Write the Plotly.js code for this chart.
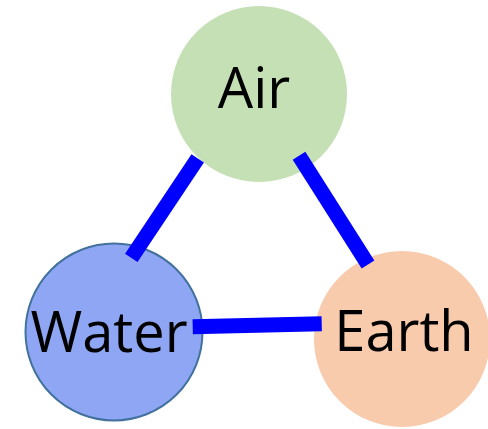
<!DOCTYPE html>
<html>
<head>
<meta charset="utf-8">
<script src="https://cdn.plot.ly/plotly-3.0.1.min.js"></script>
<style>html,body{margin:0;padding:0;background:#fff;}#chart{width:488px;height:429px;}</style>
</head>
<body>
<div id="chart"></div>
<script>
// Nodes
const nodeNames = ["Air", "Water", "Earth"];
const nodeX = [259, 114, 402];
const nodeY = [94, 332, 339];
const nodeR = [88, 88.5, 88];
const nodeFill = ["#C5E0B4", "#8FA6F5", "#F8CBAD"];
const nodeBorder = [null, "#41719C", null];
// Label anchor points (visual centre of each word)
const labelX = [254, 109, 404];
const labelY = [94, 338, 337];
// Edges (segment end points)
const edgeX0 = [197.7, 299, 192.7];
const edgeY0 = [158.3, 155.8, 326.7];
const edgeX1 = [131.3, 368, 321.7];
const edgeY1 = [257.8, 264.5, 323.8];

const shapes = nodeNames.map((n, i) => ({
  type: "circle", xref: "x", yref: "y", layer: "below",
  x0: nodeX[i] - nodeR[i], x1: nodeX[i] + nodeR[i],
  y0: nodeY[i] - nodeR[i], y1: nodeY[i] + nodeR[i],
  fillcolor: nodeFill[i],
  line: nodeBorder[i] ? {color: nodeBorder[i], width: 2} : {width: 0}
}));

const ex = [], ey = [];
for (let i = 0; i < edgeX0.length; i++) {
  ex.push(edgeX0[i], edgeX1[i], null);
  ey.push(edgeY0[i], edgeY1[i], null);
}

const traces = [
  {type: "scatter", mode: "lines", x: ex, y: ey,
   line: {color: "#0000FF", width: 15}, hoverinfo: "skip", showlegend: false},
  {type: "scatter", mode: "text", x: labelX, y: labelY, text: nodeNames,
   textposition: "middle center",
   textfont: {family: "Open Sans", size: 56, color: "#000"},
   hoverinfo: "skip", showlegend: false}
];

const layout = {
  width: 488, height: 429,
  margin: {l: 0, r: 0, t: 0, b: 0},
  paper_bgcolor: "#fff", plot_bgcolor: "#fff",
  xaxis: {range: [0, 488], visible: false, fixedrange: true},
  yaxis: {range: [429, 0], visible: false, fixedrange: true},
  shapes: shapes,
  showlegend: false
};

Plotly.newPlot("chart", traces, layout, {displayModeBar: false, staticPlot: true});
</script>
</body>
</html>
